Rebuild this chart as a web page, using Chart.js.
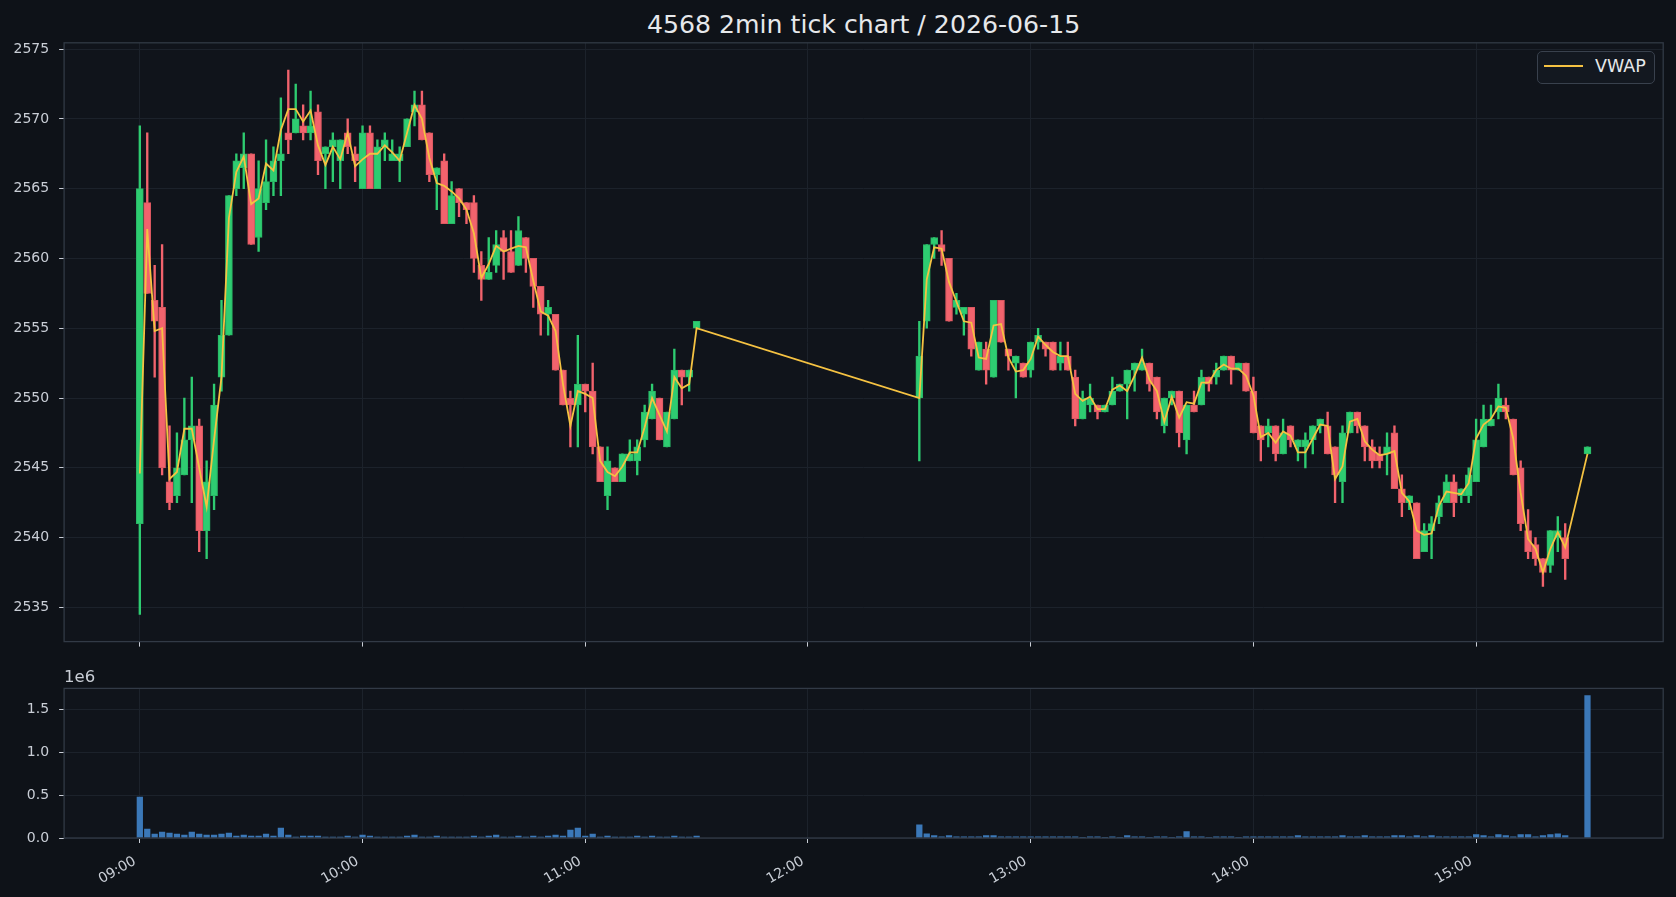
<!DOCTYPE html>
<html>
<head>
<meta charset="utf-8">
<title>4568 2min tick chart</title>
<script src="https://cdn.jsdelivr.net/npm/chart.js@4.4.1/dist/chart.umd.min.js"></script>
<style>
  html, body { margin: 0; padding: 0; }
  body { width: 1676px; height: 897px; background: #0e1218; position: relative; overflow: hidden; font-family: "DejaVu Sans", sans-serif; }
  #title { position: absolute; left: 64.1px; top: 12.4px; width: 1599px; text-align: center; font-size: 25.2px; line-height: 25.2px; color: #e6e8eb; white-space: nowrap; }
  #priceCanvas { position: absolute; left: 0; top: 0; }
  #volCanvas { position: absolute; left: 0; top: 660px; }
  #offset { position: absolute; left: 64px; top: 669px; font-size: 16.5px; line-height: 16.5px; color: #c9ced6; }
  #legend { position: absolute; left: 1537px; top: 50.7px; width: 116px; height: 31.3px; border: 1px solid #39414d; border-radius: 5px; background: #131820; }
  #legend .swatch { position: absolute; left: 6px; top: 13.1px; width: 39px; height: 0; border-top: 2px solid; }
  #legend .label { position: absolute; left: 57px; top: 6.8px; font-size: 17.5px; line-height: 17.5px; color: #e6e8eb; }
</style>
</head>
<body>
<div id="title">4568 2min tick chart / 2026-06-15</div>
<canvas id="priceCanvas" width="1676" height="660"></canvas>
<canvas id="volCanvas" width="1676" height="237"></canvas>
<div id="offset">1e6</div>
<div id="legend"></div>
<script>
// 2 minute bars, morning 09:00-11:30, afternoon 12:30-15:24 + closing auction 15:30
const times = [
  '09:00','09:02','09:04','09:06','09:08','09:10','09:12','09:14','09:16','09:18',
  '09:20','09:22','09:24','09:26','09:28','09:30','09:32','09:34','09:36','09:38',
  '09:40','09:42','09:44','09:46','09:48','09:50','09:52','09:54','09:56','09:58',
  '10:00','10:02','10:04','10:06','10:08','10:10','10:12','10:14','10:16','10:18',
  '10:20','10:22','10:24','10:26','10:28','10:30','10:32','10:34','10:36','10:38',
  '10:40','10:42','10:44','10:46','10:48','10:50','10:52','10:54','10:56','10:58',
  '11:00','11:02','11:04','11:06','11:08','11:10','11:12','11:14','11:16','11:18',
  '11:20','11:22','11:24','11:26','11:28','11:30',
  '12:30','12:32','12:34','12:36','12:38','12:40','12:42','12:44','12:46','12:48',
  '12:50','12:52','12:54','12:56','12:58',
  '13:00','13:02','13:04','13:06','13:08','13:10','13:12','13:14','13:16','13:18',
  '13:20','13:22','13:24','13:26','13:28','13:30','13:32','13:34','13:36','13:38',
  '13:40','13:42','13:44','13:46','13:48','13:50','13:52','13:54','13:56','13:58',
  '14:00','14:02','14:04','14:06','14:08','14:10','14:12','14:14','14:16','14:18',
  '14:20','14:22','14:24','14:26','14:28','14:30','14:32','14:34','14:36','14:38',
  '14:40','14:42','14:44','14:46','14:48','14:50','14:52','14:54','14:56','14:58',
  '15:00','15:02','15:04','15:06','15:08','15:10','15:12','15:14','15:16','15:18',
  '15:20','15:22','15:24','15:30'
]

const opens = [
  2541, 2564, 2557, 2556.5, 2544, 2543, 2544.5, 2547, 2548, 2540.5,
  2543, 2551.5, 2554.5, 2565, 2566.5, 2567.5, 2561.5, 2564, 2565.5, 2567,
  2569, 2569, 2569.5, 2569, 2570.5, 2567.5, 2568, 2567, 2569, 2567.5,
  2565, 2569, 2565, 2568, 2567, 2567, 2568, 2570.5, 2571, 2569,
  2566, 2567, 2562.5, 2565, 2564, 2564, 2559.5, 2558.5, 2559.5, 2561.5,
  2560.5, 2559.5, 2561.5, 2560, 2558, 2556, 2556, 2552, 2550, 2549.5,
  2551, 2550.5, 2546.5, 2543, 2545, 2544, 2545.5, 2545.5, 2547, 2548.5,
  2550, 2546.5, 2548.5, 2552, 2551.5, 2555,
  2550, 2555.5, 2561, 2561, 2560, 2556.5, 2556, 2556.5, 2552, 2553.5,
  2551.5, 2557, 2553.5, 2552.5, 2552.5, 2552, 2554, 2554, 2554, 2552.5,
  2553, 2551.5, 2548.5, 2549.5, 2549.5, 2549, 2549.5, 2550.5, 2551, 2552,
  2552, 2552.5, 2551.5, 2548, 2550, 2550.5, 2547, 2549.5, 2549.5, 2551.5,
  2551.5, 2552, 2553, 2552, 2552.5, 2550.5, 2548, 2547.5, 2548, 2546,
  2548, 2546.5, 2546.5, 2547, 2548, 2548, 2546.5, 2544, 2547.5, 2549,
  2548, 2546.5, 2546, 2546, 2547.5, 2543.5, 2542.5, 2542.5, 2539, 2540.5,
  2541.5, 2542.5, 2544, 2543, 2543, 2544, 2546.5, 2548, 2549, 2549.5,
  2548.5, 2545, 2540.5, 2539.5, 2538.5, 2538, 2540, 2540, 2546
]

const highs = [
  2569.5, 2569, 2559.5, 2561, 2548, 2547.5, 2550, 2551.5, 2548.5, 2545.5,
  2551, 2557, 2564.5, 2567.5, 2569, 2567.5, 2567, 2568.5, 2568, 2571.5,
  2573.5, 2572.5, 2571, 2572, 2571, 2568, 2569, 2568.5, 2570, 2568,
  2569.5, 2569.5, 2568.5, 2569, 2568.5, 2568, 2570, 2572, 2572, 2569,
  2566.5, 2567.5, 2565.5, 2565, 2564, 2564.5, 2560.5, 2561.5, 2562, 2562,
  2562, 2563, 2561.5, 2560, 2558, 2557, 2556, 2552, 2550.5, 2554.5,
  2551, 2552.5, 2546.5, 2546.5, 2545, 2546, 2547, 2547, 2549.5, 2551,
  2550, 2549, 2553.5, 2552, 2552, 2555.5,
  2555.5, 2561, 2561.5, 2562, 2560, 2557.5, 2556.5, 2556.5, 2554, 2554,
  2557, 2557, 2553.5, 2553, 2552.5, 2554, 2555, 2554, 2554, 2554,
  2554, 2552, 2550.5, 2551, 2549.5, 2549.5, 2551.5, 2551, 2552, 2552.5,
  2553.5, 2552.5, 2551.5, 2550, 2550.5, 2550.5, 2549.5, 2550.5, 2552, 2551.5,
  2552.5, 2553, 2553, 2552.5, 2552.5, 2551.5, 2548, 2548.5, 2548, 2548.5,
  2548, 2547, 2547.5, 2548, 2548.5, 2549, 2546.5, 2548, 2549, 2549,
  2548, 2547, 2546.5, 2547.5, 2548, 2544.5, 2543, 2542.5, 2541, 2541.5,
  2543, 2544.5, 2544.5, 2543.5, 2545, 2548.5, 2549.5, 2549.5, 2551, 2550,
  2548.5, 2545.5, 2542, 2540, 2538.5, 2540.5, 2541.5, 2541, 2546.5
]

const lows = [
  2534.5, 2557.5, 2551.5, 2544.5, 2542, 2542.5, 2544.5, 2542.5, 2539, 2538.5,
  2542, 2550.5, 2554.5, 2564.5, 2565, 2561, 2560.5, 2563.5, 2564.5, 2564.5,
  2567.5, 2569, 2568.5, 2568.5, 2566, 2565, 2565.5, 2565, 2567.5, 2565.5,
  2565, 2565, 2565, 2567, 2567, 2565.5, 2568, 2569.5, 2568.5, 2565.5,
  2563.5, 2562.5, 2562.5, 2563, 2562.5, 2559, 2557, 2558.5, 2559, 2558.5,
  2559, 2559.5, 2559, 2556.5, 2554.5, 2554.5, 2552, 2549.5, 2546.5, 2546.5,
  2549, 2546, 2544, 2542, 2544, 2544, 2545.5, 2544.5, 2546.5, 2548.5,
  2547, 2546.5, 2548.5, 2549.5, 2550.5, 2555,
  2545.5, 2555, 2560, 2559.5, 2555.5, 2556, 2554.5, 2553, 2552, 2551,
  2551.5, 2554, 2552, 2550, 2551.5, 2551.5, 2553.5, 2553, 2552, 2552,
  2552, 2548, 2548.5, 2549, 2548.5, 2549, 2549.5, 2550.5, 2548.5, 2550.5,
  2552, 2550.5, 2548.5, 2547.5, 2549.5, 2546.5, 2546, 2549, 2549.5, 2550.5,
  2551, 2552, 2551, 2552, 2550.5, 2547.5, 2545.5, 2546.5, 2545.5, 2546,
  2546.5, 2545.5, 2545, 2546, 2547.5, 2546, 2542.5, 2542.5, 2547.5, 2547.5,
  2545.5, 2545, 2545, 2544.5, 2543.5, 2541.5, 2542, 2538.5, 2539, 2538.5,
  2541, 2542.5, 2541.5, 2542.5, 2542.5, 2544, 2546.5, 2548, 2548.5, 2548.5,
  2544.5, 2540.5, 2538.5, 2538, 2536.5, 2537.5, 2539, 2537, 2546
]

const closes = [
  2565, 2557.5, 2555.5, 2545, 2542.5, 2545, 2547, 2548, 2540.5, 2544,
  2549.5, 2554.5, 2564.5, 2567, 2567.5, 2561, 2565, 2565.5, 2567, 2567.5,
  2568.5, 2570, 2569, 2569.5, 2567, 2568, 2568.5, 2568.5, 2568, 2567,
  2569, 2565, 2568, 2568.5, 2567.5, 2567.5, 2570, 2571, 2568.5, 2566,
  2566.5, 2562.5, 2564.5, 2564, 2563.5, 2560, 2558.5, 2559, 2561, 2560.5,
  2559, 2562, 2560, 2558, 2556, 2556.5, 2552, 2549.5, 2549.5, 2551,
  2550.5, 2546.5, 2544, 2545.5, 2544, 2546, 2546, 2546.5, 2549, 2550.5,
  2547, 2549, 2552, 2551.5, 2552, 2555.5,
  2553, 2561, 2561.5, 2560.5, 2555.5, 2557, 2556.5, 2553.5, 2554, 2552,
  2557, 2554, 2553, 2553, 2551.5, 2554, 2554.5, 2553.5, 2552, 2553,
  2552, 2548.5, 2550, 2550, 2549, 2549.5, 2550.5, 2551, 2552, 2552.5,
  2552.5, 2551, 2549, 2550, 2550.5, 2547.5, 2549.5, 2549, 2551.5, 2551,
  2552, 2553, 2552, 2552.5, 2550.5, 2547.5, 2547, 2548, 2546, 2547.5,
  2547, 2547, 2547, 2548, 2548.5, 2546, 2544.5, 2547.5, 2549, 2548,
  2546.5, 2545.5, 2545.5, 2546.5, 2543.5, 2542.5, 2543, 2538.5, 2540.5, 2541,
  2542.5, 2544, 2542.5, 2543.5, 2544.5, 2547, 2548.5, 2548.5, 2550, 2549,
  2544.5, 2541, 2539, 2538.5, 2537.5, 2540.5, 2540.5, 2538.5, 2546.5
]

const vwap = [
  2544.6, 2562.1, 2554.8, 2555.0, 2544.2, 2544.7, 2547.8, 2547.8, 2545.0, 2542.2,
  2547.0, 2551.5, 2562.9, 2566.2, 2567.3, 2563.9, 2564.3, 2566.8, 2566.3, 2569.2,
  2570.7, 2570.7, 2569.8, 2570.6, 2568.1, 2566.7, 2568.0, 2567.1, 2569.0, 2566.6,
  2567.1, 2567.5, 2567.5, 2568.1, 2567.6, 2567.0, 2569.0, 2571.0, 2570.0, 2567.2,
  2565.4, 2565.2, 2564.8, 2564.3, 2563.5, 2561.8, 2558.6, 2559.6, 2560.9, 2560.5,
  2560.7, 2560.9, 2560.8, 2558.4, 2556.2, 2555.9, 2554.8, 2551.0, 2548.0, 2550.5,
  2550.3, 2550.0, 2545.5, 2544.7, 2544.4, 2545.1, 2546.1, 2546.1, 2547.9, 2550.0,
  2548.8, 2547.6, 2551.5, 2550.7, 2551.0, 2555.0,
  2550.0, 2558.5, 2560.8, 2560.7, 2558.3, 2556.9, 2555.5, 2555.4, 2552.9, 2552.8,
  2555.2, 2555.3, 2552.9, 2551.9, 2552.0, 2552.8, 2554.4, 2553.8, 2553.3, 2553.0,
  2553.0, 2550.3, 2549.8, 2550.1, 2549.2, 2549.2, 2550.6, 2550.9, 2550.5, 2551.6,
  2552.9, 2551.3, 2550.5, 2548.3, 2550.1, 2548.6, 2549.7, 2549.6, 2551.1, 2551.1,
  2552.0, 2552.4, 2552.1, 2552.1, 2551.6, 2550.2, 2547.2, 2547.5, 2546.8, 2547.6,
  2547.3, 2546.1, 2546.1, 2547.1, 2548.1, 2548.0, 2544.2, 2545.1, 2548.3, 2548.5,
  2546.9, 2546.3, 2545.9, 2546.0, 2546.2, 2543.2, 2542.6, 2540.5, 2540.2, 2540.3,
  2542.3, 2543.3, 2543.2, 2543.1, 2543.9, 2547.1, 2548.1, 2548.5, 2549.4, 2549.3,
  2547.1, 2543.2, 2539.9, 2539.2, 2537.5, 2539.2, 2540.4, 2539.3, 2546.0
]

const volume = [
  480000, 105000, 47000, 70000, 58000, 47000, 35000, 70000, 47000, 35000,
  35000, 47000, 58000, 23000, 35000, 23000, 23000, 47000, 23000, 116000,
  35000, 12000, 23000, 23000, 23000, 12000, 12000, 12000, 23000, 12000,
  35000, 23000, 12000, 12000, 12000, 12000, 23000, 35000, 12000, 12000,
  23000, 12000, 12000, 12000, 12000, 23000, 12000, 23000, 35000, 12000,
  12000, 23000, 12000, 23000, 12000, 23000, 35000, 23000, 93000, 116000,
  23000, 47000, 12000, 23000, 12000, 12000, 12000, 23000, 12000, 23000,
  12000, 12000, 23000, 12000, 12000, 23000,
  155000, 50000, 27000, 15000, 27000, 15000, 15000, 15000, 15000, 27000,
  27000, 15000, 15000, 15000, 15000, 15000, 15000, 15000, 15000, 15000,
  15000, 15000, 4000, 15000, 15000, 4000, 15000, 4000, 27000, 15000,
  15000, 4000, 15000, 15000, 4000, 15000, 74000, 15000, 15000, 4000,
  15000, 15000, 15000, 4000, 15000, 15000, 15000, 15000, 15000, 15000,
  15000, 27000, 15000, 15000, 15000, 15000, 15000, 27000, 15000, 15000,
  27000, 15000, 15000, 15000, 27000, 27000, 15000, 27000, 15000, 27000,
  15000, 15000, 15000, 15000, 15000, 39000, 27000, 15000, 39000, 27000,
  15000, 39000, 39000, 15000, 27000, 39000, 50000, 27000, 1667000
]

const hourTicks = ['09:00', '10:00', '11:00', '12:00', '13:00', '14:00', '15:00']
const priceTicks = [2535, 2540, 2545, 2550, 2555, 2560, 2565, 2570, 2575]
const volTicks = [0, 500000, 1000000, 1500000]
const volTickLabels = ['0.0', '0.5', '1.0', '1.5']

const upColor = '#2ecc71'
const upEdge = '#29b866'
const downColor = '#f2636d'
const downEdge = '#da5760'
const vwapColor = '#f5c242'
const volColor = '#3b78b8'
const gridColor = '#1c222b'
const tickColor = '#c9ced6'
const frameColor = '#323a46'
const axesBg = '#10141b'

Chart.defaults.font.family = '"DejaVu Sans", sans-serif'

function toMinutes(t) {
    return (parseInt(t.slice(0, 2)) - 9) * 60 + parseInt(t.slice(3))
}

const xs = times.map(toMinutes)
const isUp = opens.map((o, i) => closes[i] >= o)
const candleColors = isUp.map(u => u ? upColor : downColor)
const edgeColors = isUp.map(u => u ? upEdge : downEdge)

// axes background + full frame like matplotlib spines
const framePlugin = {
    id: 'frame',
    beforeDraw(chart) {
        const { ctx, chartArea: a } = chart
        ctx.save()
        ctx.fillStyle = axesBg
        ctx.fillRect(a.left, a.top, a.right - a.left, a.bottom - a.top)
        ctx.restore()
    },
    afterDatasetsDraw(chart) {
        const { ctx, chartArea: a } = chart
        ctx.save()
        ctx.strokeStyle = frameColor
        ctx.lineWidth = 1.3
        ctx.strokeRect(a.left, a.top, a.right - a.left, a.bottom - a.top)
        ctx.restore()
    }
}

function xScale(showLabels, axisHeight) {
    return {
        type: 'linear',
        min: -20.4,
        max: 410.4,
        offset: false,
        afterBuildTicks: s => { s.ticks = hourTicks.map(t => ({ value: toMinutes(t) })) },
        afterFit: s => { s.height = axisHeight },
        ticks: {
            display: showLabels,
            autoSkip: false,
            maxRotation: 30,
            minRotation: 30,
            padding: 10,
            labelOffset: -5,
            color: tickColor,
            font: { size: 14 },
            callback: v => hourTicks.find(t => toMinutes(t) === v) || ''
        },
        grid: { color: gridColor, tickColor: tickColor, tickLength: 5, lineWidth: 1, offset: false },
        border: { display: false }
    }
}

function yScale(min, max, ticks, labels) {
    return {
        min: min,
        max: max,
        afterBuildTicks: s => { s.ticks = ticks.map(v => ({ value: v })) },
        afterFit: s => { s.width = 64.1 },
        ticks: {
            color: tickColor,
            padding: 10,
            font: { size: 14 },
            callback: v => labels ? labels[ticks.indexOf(v)] : String(v)
        },
        grid: { color: gridColor, tickColor: tickColor, tickLength: 5, lineWidth: 1 },
        border: { display: false }
    }
}

const priceChart = new Chart(document.getElementById('priceCanvas'), {
    type: 'bar',
    data: {
        datasets: [
            {
                type: 'line',
                label: 'VWAP',
                data: xs.map((x, i) => ({ x: x, y: vwap[i] })),
                borderColor: vwapColor,
                borderWidth: 1.8,
                pointRadius: 0,
                tension: 0,
                order: 0
            },
            {
                label: 'body',
                data: xs.map((x, i) => ({ x: x, y: [opens[i], closes[i]] })),
                backgroundColor: candleColors,
                borderColor: edgeColors,
                borderWidth: 1,
                borderSkipped: false,
                barThickness: 7,
                minBarLength: 1.5,
                grouped: false,
                order: 1
            },
            {
                label: 'wick',
                data: xs.map((x, i) => ({ x: x, y: [lows[i], highs[i]] })),
                backgroundColor: candleColors,
                barThickness: 1.7,
                grouped: false,
                order: 2
            }
        ]
    },
    options: {
        responsive: false,
        animation: false,
        layout: { padding: { left: 0, right: 12.8, top: 42.8, bottom: 0 } },
        plugins: { legend: { display: false }, tooltip: { enabled: false } },
        scales: {
            x: xScale(false, 17.6),
            y: yScale(2532.55, 2575.45, priceTicks, null)
        }
    },
    plugins: [framePlugin]
})

const volChart = new Chart(document.getElementById('volCanvas'), {
    type: 'bar',
    data: {
        datasets: [{
            label: 'Volume',
            data: xs.map((x, i) => ({ x: x, y: volume[i] })),
            backgroundColor: volColor,
            barThickness: 5.6,
            grouped: false
        }]
    },
    options: {
        responsive: false,
        animation: false,
        layout: { padding: { left: 0, right: 12.8, top: 28.4, bottom: 0 } },
        plugins: { legend: { display: false }, tooltip: { enabled: false } },
        scales: {
            x: xScale(true, 59),
            y: yScale(0, 1750000, volTicks, volTickLabels)
        }
    },
    plugins: [framePlugin]
})

// legend from the VWAP dataset
const vwapSet = priceChart.data.datasets[0]
const legend = document.getElementById('legend')
legend.innerHTML = '<div class="swatch" style="border-color:' + vwapSet.borderColor + '"></div><div class="label">' + vwapSet.label + '</div>'
</script>
</body>
</html>
